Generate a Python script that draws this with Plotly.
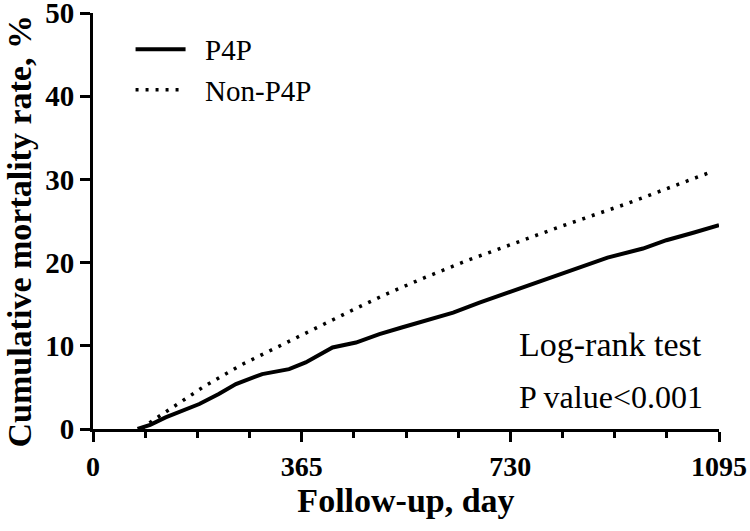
import plotly.graph_objects as go

# P4P (solid)
p4p_days = [78, 100, 127, 155, 186, 220, 250, 296, 343, 372, 400, 419, 460, 501, 540, 588, 630, 676, 746, 800, 851, 900, 962, 1003, 1050, 1095]
p4p_rate = [0.0, 0.5, 1.4, 2.2, 3.0, 4.2, 5.4, 6.6, 7.2, 8.0, 9.0, 9.8, 10.4, 11.4, 12.2, 13.2, 14.0, 15.2, 16.9, 18.2, 19.5, 20.6, 21.7, 22.7, 23.6, 24.5]

# Non-P4P (dotted)
non_days = [85, 104, 148, 194, 259, 326, 393, 460, 512, 580, 656, 746, 820, 930, 1000, 1085]
non_rate = [0.0, 1.0, 3.0, 5.1, 7.7, 10.0, 12.2, 14.5, 16.2, 18.2, 20.3, 22.6, 24.4, 27.0, 28.8, 31.0]

x_ticks = [0, 365, 730, 1095]
y_ticks = [0, 10, 20, 30, 40, 50]

SERIF = "Liberation Serif, Times New Roman, serif"

fig = go.Figure()
fig.add_trace(go.Scatter(x=p4p_days, y=p4p_rate, mode="lines", name="\u2002P4P",
                         line=dict(color="black", width=4)))
fig.add_trace(go.Scatter(x=non_days, y=non_rate, mode="lines", name="\u2002Non-P4P",
                         line=dict(color="black", width=3.5, dash="3px,7px")))

fig.update_layout(
    width=750, height=531,
    margin=dict(l=93, r=31, t=13, b=102, autoexpand=False),
    plot_bgcolor="white", paper_bgcolor="white",
    font=dict(family=SERIF, color="black"),
    showlegend=True,
    legend=dict(x=0.06, y=0.974, xanchor="left", yanchor="top",
                bgcolor="rgba(0,0,0,0)", font=dict(size=29, family=SERIF),
                itemwidth=50, tracegroupgap=0),
    annotations=[
        dict(text="<b>Cumulative mortality rate, %</b>", textangle=-90,
             x=-0.118, y=0.475, xref="paper", yref="paper", showarrow=False,
             font=dict(size=34, family=SERIF), xanchor="center", yanchor="middle"),
        dict(text="Log-rank test", x=0.677, y=0.204, xref="paper", yref="paper",
             showarrow=False, font=dict(size=34, family=SERIF), xanchor="left", yanchor="middle"),
        dict(text="P value<0.001", x=0.677, y=0.077, xref="paper", yref="paper",
             showarrow=False, font=dict(size=32, family=SERIF), xanchor="left", yanchor="middle"),
    ],
)

fig.update_xaxes(
    range=[0, 1095], tickvals=x_ticks, ticktext=[str(v) for v in x_ticks],
    showline=True, linecolor="black", linewidth=3, mirror=False,
    ticks="outside", ticklen=10, tickwidth=3, tickcolor="black",
    showgrid=False, zeroline=False, ticklabeloverflow="allow", automargin=False,
    tickfont=dict(size=28, family=SERIF, weight="bold"),
    minor=dict(dtick=91.25, tick0=0, ticks="outside", ticklen=6, tickwidth=3, tickcolor="black", showgrid=False),
    title=dict(text="<b>Follow-up, day</b>", font=dict(size=34, family=SERIF), standoff=8),
)
fig.update_yaxes(
    range=[0, 50.02], tickvals=y_ticks,
    showline=True, linecolor="black", linewidth=3,
    ticks="outside", ticklen=10, tickwidth=3, tickcolor="black",
    showgrid=False, zeroline=False, ticklabeloverflow="allow", automargin=False,
    tickfont=dict(size=29, family=SERIF, weight="bold"),
)

fig.write_html("out.html", config={"displayModeBar": False},
               post_script="document.body.style.margin='0';")
